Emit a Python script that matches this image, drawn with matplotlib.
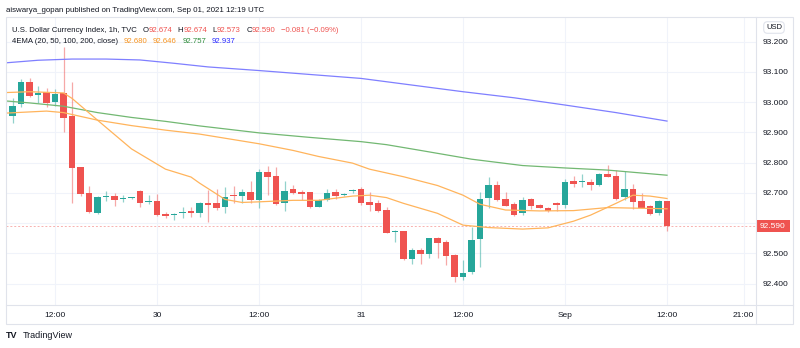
import matplotlib
matplotlib.use("Agg")
import matplotlib.pyplot as plt
import matplotlib.transforms as mtransforms
from matplotlib.patches import Rectangle
from matplotlib.lines import Line2D

plt.rcParams['font.family'] = ['Liberation Sans', 'DejaVu Sans']

# hourly bars, x = bar index (12 -> first "12:00" tick, 24 -> "30", ...)
bar_idx = list(range(6, 85))
opens = [93.000, 92.955, 92.992, 93.065, 93.024, 93.034, 93.001, 93.029, 92.954, 92.784,
         92.698, 92.633, 92.686, 92.690, 92.679, 92.683, 92.706, 92.670, 92.673, 92.630,
         92.628, 92.633, 92.640, 92.634, 92.665, 92.665, 92.654, 92.692, 92.690, 92.703,
         92.676, 92.769, 92.756, 92.667, 92.711, 92.701, 92.701, 92.654, 92.676, 92.703,
         92.693, 92.707, 92.711, 92.668, 92.665, 92.643, 92.571, 92.573, 92.481, 92.510,
         92.496, 92.552, 92.536, 92.494, 92.422, 92.439, 92.547, 92.683, 92.727, 92.678,
         92.662, 92.632, 92.678, 92.661, 92.651, 92.667, 92.659, 92.740, 92.734, 92.736,
         92.725, 92.761, 92.755, 92.685, 92.714, 92.672, 92.656, 92.632, 92.674]
highs = [93.010, 93.012, 93.076, 93.080, 93.053, 93.045, 93.042, 93.182, 93.065, 92.786,
         92.722, 92.690, 92.707, 92.698, 92.693, 92.687, 92.708, 92.693, 92.696, 92.638,
         92.632, 92.654, 92.654, 92.670, 92.709, 92.711, 92.720, 92.722, 92.712, 92.739,
         92.778, 92.789, 92.786, 92.739, 92.727, 92.709, 92.703, 92.678, 92.711, 92.711,
         92.699, 92.714, 92.718, 92.701, 92.676, 92.654, 92.576, 92.575, 92.519, 92.518,
         92.552, 92.554, 92.543, 92.496, 92.477, 92.588, 92.701, 92.751, 92.739, 92.703,
         92.670, 92.687, 92.683, 92.664, 92.654, 92.669, 92.745, 92.755, 92.762, 92.747,
         92.764, 92.791, 92.775, 92.773, 92.729, 92.700, 92.658, 92.676, 92.674]
lows = [92.945, 92.932, 92.982, 93.018, 92.998, 92.982, 92.987, 92.902, 92.665, 92.689,
        92.632, 92.630, 92.674, 92.657, 92.671, 92.679, 92.652, 92.662, 92.624, 92.618,
        92.610, 92.615, 92.621, 92.621, 92.604, 92.643, 92.632, 92.667, 92.667, 92.665,
        92.651, 92.692, 92.659, 92.640, 92.696, 92.676, 92.651, 92.652, 92.674, 92.681,
        92.690, 92.700, 92.659, 92.639, 92.637, 92.566, 92.538, 92.479, 92.463, 92.466,
        92.483, 92.486, 92.461, 92.406, 92.411, 92.433, 92.455, 92.648, 92.674, 92.655,
        92.624, 92.628, 92.646, 92.648, 92.638, 92.640, 92.648, 92.718, 92.718, 92.709,
        92.722, 92.751, 92.676, 92.676, 92.645, 92.650, 92.626, 92.626, 92.573]
closes = [92.952, 92.988, 93.065, 93.021, 93.031, 92.998, 93.025, 92.948, 92.781, 92.695,
          92.635, 92.685, 92.689, 92.676, 92.684, 92.684, 92.667, 92.673, 92.627, 92.624,
          92.630, 92.636, 92.634, 92.665, 92.661, 92.651, 92.687, 92.689, 92.702, 92.676,
          92.769, 92.753, 92.662, 92.707, 92.698, 92.696, 92.654, 92.676, 92.698, 92.690,
          92.697, 92.709, 92.665, 92.661, 92.640, 92.568, 92.574, 92.481, 92.510, 92.496,
          92.549, 92.535, 92.491, 92.422, 92.435, 92.543, 92.681, 92.725, 92.676, 92.657,
          92.628, 92.676, 92.657, 92.651, 92.640, 92.661, 92.736, 92.729, 92.739, 92.725,
          92.762, 92.753, 92.678, 92.711, 92.670, 92.650, 92.629, 92.672, 92.590]

# moving averages
ema20_idx = [6, 9, 13, 14, 17, 21, 25, 28, 29, 32, 34, 36, 40, 43, 47, 49, 51, 53, 57,
             60, 63, 67, 70, 73, 75, 78, 80, 82, 84]
ema20 = [93.031, 93.034, 93.030, 93.012, 92.940, 92.845, 92.778, 92.752, 92.732, 92.678,
         92.668, 92.670, 92.675, 92.675, 92.689, 92.692, 92.684, 92.665, 92.632, 92.593,
         92.585, 92.580, 92.584, 92.606, 92.626, 92.665, 92.692, 92.689, 92.681]
ema50_idx = [6, 11, 13, 17, 21, 25, 29, 36, 40, 43, 47, 49, 53, 57, 60, 62, 65, 69, 73, 77, 84]
ema50 = [92.963, 92.970, 92.965, 92.940, 92.922, 92.907, 92.894, 92.862, 92.840, 92.820,
         92.798, 92.778, 92.753, 92.724, 92.692, 92.662, 92.643, 92.640, 92.641, 92.651, 92.647]
ema100_idx = [6, 9, 13, 17, 21, 25, 29, 36, 42, 48, 51, 55, 61, 67, 72, 77, 84]
ema100 = [93.004, 92.997, 92.986, 92.965, 92.949, 92.936, 92.921, 92.898, 92.883, 92.869,
          92.859, 92.840, 92.811, 92.790, 92.782, 92.775, 92.758]
ema200_idx = [6, 10, 14, 18, 22, 26, 30, 36, 42, 48, 54, 60, 66, 72, 78, 84]
ema200 = [93.129, 93.138, 93.142, 93.142, 93.139, 93.128, 93.116, 93.104, 93.091, 93.078,
          93.056, 93.034, 93.014, 92.990, 92.965, 92.937]

tick_idx = [12, 24, 36, 48, 60, 72, 84, 93]
tick_labels = ['12:00', '30', '12:00', '31', '12:00', 'Sep', '12:00', '21:00']
price_ticks = [92.4, 92.5, 92.6, 92.7, 92.8, 92.9, 93.0, 93.1, 93.2]
last_price = 92.590

UP = '#26a69a'
DOWN = '#ef5350'
TXT = '#131722'
BORDER = '#e0e3eb'
W, H = 800, 348


def fx(x):
    return x / W


def fy(y):
    return 1 - y / H


fig = plt.figure(figsize=(W / 100, H / 100), dpi=100)
ax = fig.add_axes([fx(6), fy(305), 750 / W, 288 / H])
ax.set_xlim(6.235, 94.47)
ax.set_ylim(92.329, 93.281)
for s in ax.spines.values():
    s.set_visible(False)

ax.set_xticks(tick_idx)
ax.set_xticklabels(tick_labels)
ax.set_yticks(price_ticks)
# the 92.600 label sits under the last-price tag
ax.set_yticklabels(['' if abs(p - 92.6) < 1e-9 else '%.3f' % p for p in price_ticks])
ax.yaxis.tick_right()
ax.tick_params(axis='y', length=0, pad=4.8, labelsize=6, labelcolor=TXT)
ax.tick_params(axis='x', length=0, pad=5, labelsize=6, labelcolor=TXT)
ax.grid(color='#f0f3fa', lw=0.8, zorder=0)
ax.set_axisbelow(True)

# candles
is_up = [c >= o for o, c in zip(opens, closes)]
body_bottom = [min(o, c) for o, c in zip(opens, closes)]
body_height = [max(abs(c - o), 0.0025) for o, c in zip(opens, closes)]
body_colors = [UP if u else DOWN for u in is_up]
wick_colors = [(0.149, 0.651, 0.604, 0.5) if u else (0.937, 0.325, 0.314, 0.5) for u in is_up]
ax.vlines(bar_idx, lows, highs, colors=wick_colors, lw=0.9, zorder=2)
ax.bar(bar_idx, body_height, bottom=body_bottom, width=0.72, color=body_colors, lw=0, zorder=3)

# EMAs
ax.plot(ema200_idx, ema200, color='#7f7fff', lw=0.9, zorder=4)
ax.plot(ema100_idx, ema100, color='#72b872', lw=0.9, zorder=4)
ax.plot(ema50_idx, ema50, color='#ffb45c', lw=0.9, zorder=4)
ax.plot(ema20_idx, ema20, color='#ffb45c', lw=0.9, zorder=4)

# last price line + tag
ax.axhline(last_price, color=DOWN, alpha=0.45, lw=0.7, ls=(0, (2, 2)), zorder=1)
blend = mtransforms.blended_transform_factory(ax.transAxes, ax.transData)
ax.add_patch(Rectangle((1.0, last_price - 0.0198), 34 / 750, 0.0397, transform=blend,
                       fc=DOWN, ec='none', clip_on=False, zorder=5))
ax.text(1.0 + 17 / 750, last_price, '%.3f' % last_price, transform=blend, color='white',
        fontsize=6, ha='center', va='center', zorder=6)

# frame of the chart pane
fig.add_artist(Rectangle((fx(6), fy(324)), 787 / W, 307 / H, transform=fig.transFigure,
                         fill=False, ec=BORDER, lw=0.8))
fig.add_artist(Line2D([fx(756), fx(756)], [fy(17), fy(324)], color=BORDER, lw=0.8))
fig.add_artist(Line2D([fx(6), fx(793)], [fy(305), fy(305)], color=BORDER, lw=0.8))

fig.text(fx(774), fy(27.5), 'USD', fontsize=5.5, color=TXT, ha='center', va='center',
         bbox=dict(boxstyle='round,pad=0.3,rounding_size=0.5', fc='white', ec=BORDER, lw=0.8))

# header and legend
fig.text(fx(6), fy(10), 'aiswarya_gopan published on TradingView.com, Sep 01, 2021 12:19 UTC',
         fontsize=5.7, color=TXT, va='center')


def colored_line(x, y, parts, size=5.6):
    t = fig.text(fx(x), fy(y), parts[0][0], color=parts[0][1], fontsize=size, va='bottom')
    for s, c, gap in parts[1:]:
        t = ax.annotate(s, xy=(1, 0), xycoords=t, xytext=(gap, 0), textcoords='offset points',
                        color=c, fontsize=size, va='bottom', ha='left', annotation_clip=False)


colored_line(12, 33.5, [('U.S. Dollar Currency Index, 1h, TVC', TXT, 0),
                        ('O', TXT, 4), ('92.674', DOWN, 0),
                        ('H', TXT, 4), ('92.674', DOWN, 0),
                        ('L', TXT, 4), ('92.573', DOWN, 0),
                        ('C', TXT, 4), ('92.590', DOWN, 0),
                        ('\u22120.081 (\u22120.09%)', DOWN, 4)])
colored_line(12, 45, [('4EMA (20, 50, 100, 200, close)', TXT, 0),
                      ('92.680', '#f7931e', 4), ('92.646', '#f7931e', 4),
                      ('92.757', '#2e8b3a', 4), ('92.937', '#2a2aff', 4)])

# footer logo
fig.text(fx(6), fy(336), 'TV', fontsize=6.5, fontweight='bold', color=TXT, va='center')
fig.text(fx(23), fy(336), 'TradingView', fontsize=6.5, color=TXT, va='center')

fig.savefig('out.png', dpi=100, facecolor='white')
